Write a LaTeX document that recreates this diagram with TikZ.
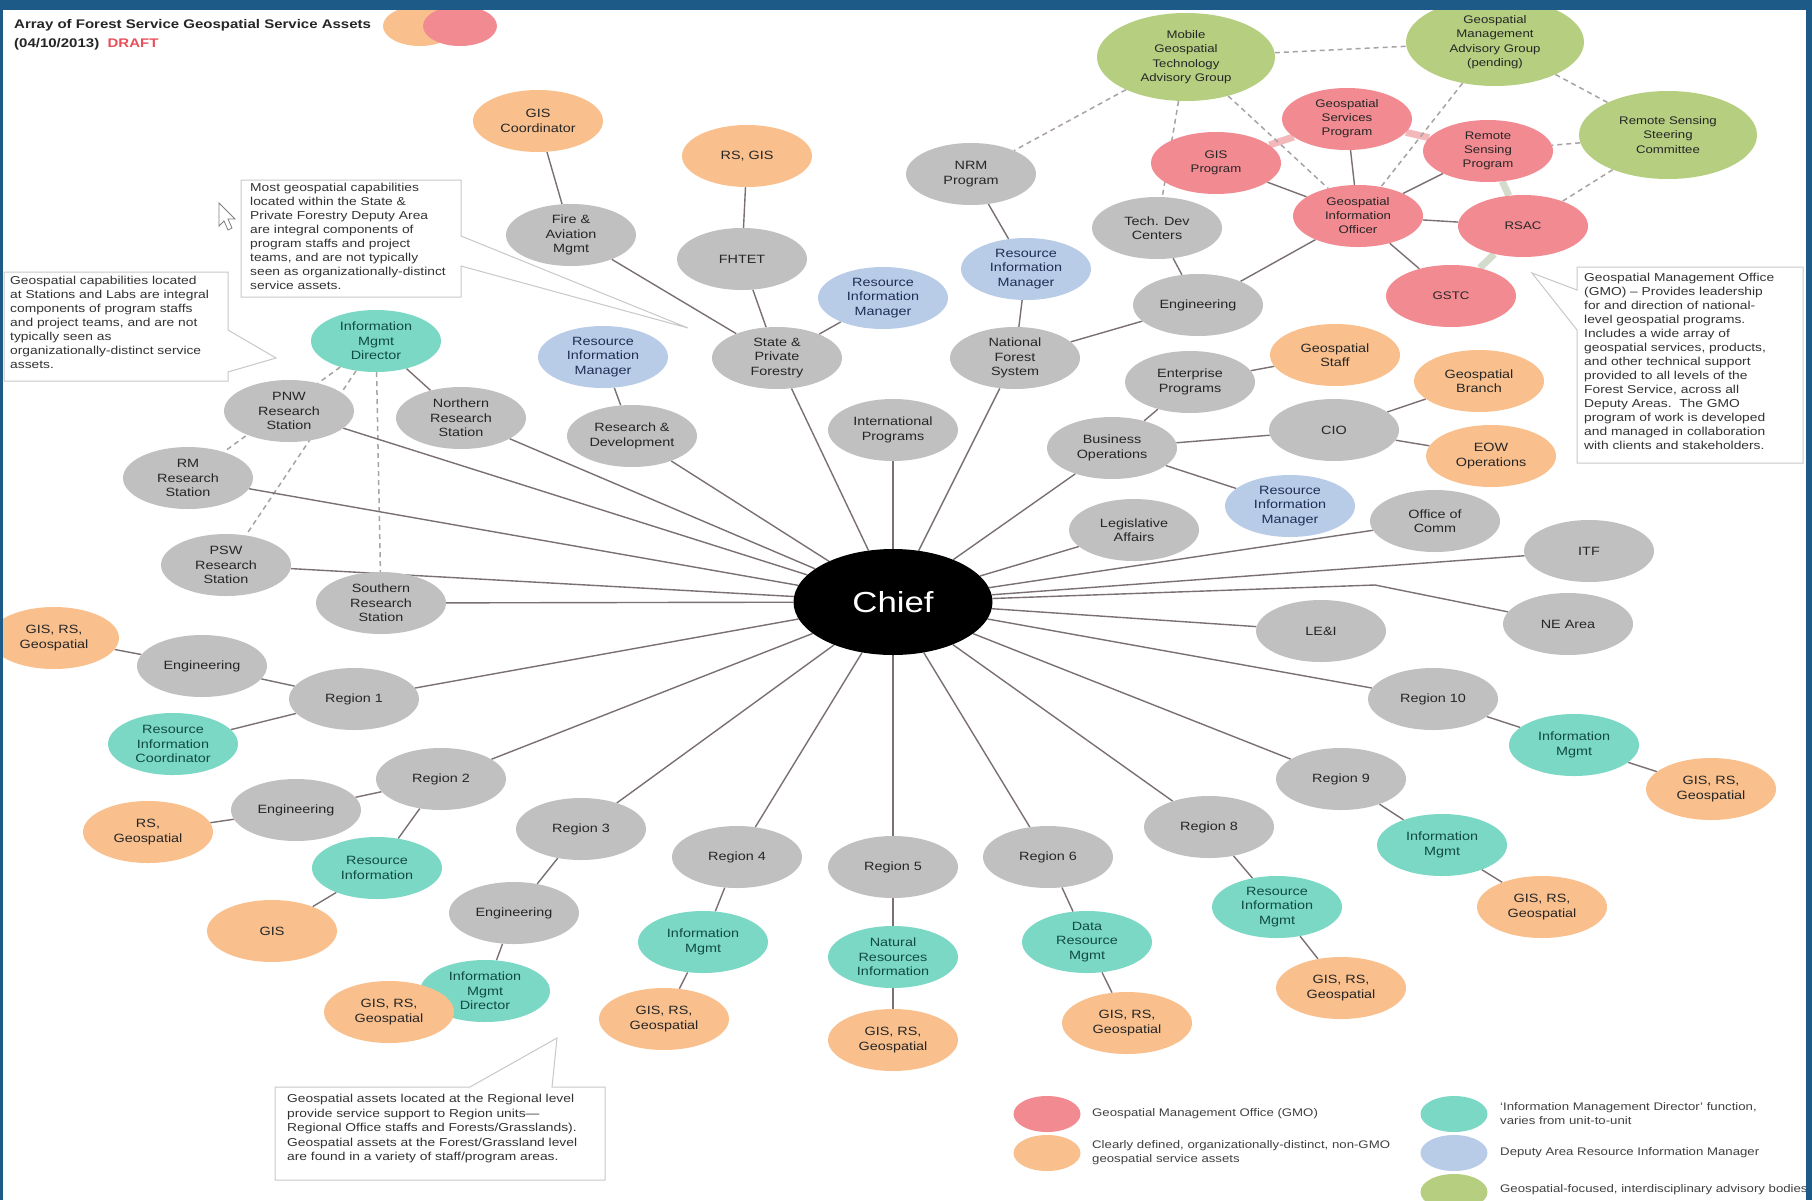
\documentclass[tikz,border=0pt]{standalone}
\usepackage{fontspec}
\setmainfont{Liberation Sans}[FakeStretch=1.2]
\usetikzlibrary{shapes.geometric,backgrounds}

\definecolor{grayn}{RGB}{192,192,192}
\definecolor{orangen}{RGB}{249,192,141}
\definecolor{pinkn}{RGB}{242,138,145}
\definecolor{tealn}{RGB}{122,216,197}
\definecolor{bluen}{RGB}{184,204,232}
\definecolor{greenn}{RGB}{181,206,128}
\definecolor{tealt}{RGB}{18,74,69}
\definecolor{bluet}{RGB}{31,47,85}
\definecolor{linkc}{RGB}{122,112,114}
\definecolor{framec}{RGB}{30,90,136}
\definecolor{callc}{RGB}{200,200,200}
\definecolor{draftc}{RGB}{232,80,90}
\definecolor{gluep}{RGB}{245,184,186}
\definecolor{glueg}{RGB}{211,220,203}

\begin{document}
\begin{tikzpicture}[x=1pt,y=-1pt,
    unit/.style={ellipse,fill=grayn,inner sep=1pt,minimum width=130pt,minimum height=62pt,
        align=center,text=black!85,font=\fontsize{12}{14.5}\selectfont},
    asset/.style={fill=orangen},
    gmo/.style={fill=pinkn,font=\fontsize{11}{14}\selectfont},
    imd/.style={fill=tealn,text=tealt},
    rim/.style={fill=bluen,text=bluet},
    board/.style={fill=greenn,minimum width=178pt,minimum height=88pt,font=\fontsize{11}{14.5}\selectfont},
    note/.style={anchor=north west,align=left,inner sep=0pt,text=black!80,font=\fontsize{11.5}{14}\selectfont},
    callout/.style={draw=callc,line width=1pt,fill=white},
    keytext/.style={anchor=west,align=left,inner sep=0pt,text=black!75,font=\fontsize{11}{14}\selectfont}]
\useasboundingbox (0,0) rectangle (1812,1200);

\begin{scope}[every node/.style={unit}]
    % chief
    \node[fill=black,text=white,font=\fontsize{29}{31}\selectfont,minimum width=199pt,minimum height=106pt] (chief) at (893,602) {Chief};
    % state & private forestry
    \node[asset] (gisco) at (538,121) {GIS\\Coordinator};
    \node (fam) at (571,235) {Fire \&\\Aviation\\Mgmt};
    \node[asset] (rsgis) at (747,156) {RS, GIS};
    \node (fhtet) at (742,259) {FHTET};
    \node[rim] (rimspf) at (883,298) {Resource\\Information\\Manager};
    \node (spf) at (777,358) {State \&\\Private\\Forestry};
    % research
    \node[rim] (rimrd) at (603,357) {Resource\\Information\\Manager};
    \node (rnd) at (632,436) {Research \&\\Development};
    \node[imd] (imdres) at (376,341) {Information\\Mgmt\\Director};
    \node (pnw) at (289,411) {PNW\\Research\\Station};
    \node (nrs) at (461,418) {Northern\\Research\\Station};
    \node (rmrs) at (188,478) {RM\\Research\\Station};
    \node (psw) at (226,565) {PSW\\Research\\Station};
    \node (srs) at (381,603) {Southern\\Research\\Station};
    \node (intl) at (893,430) {International\\Programs};
    % national forest system
    \node (nrm) at (971,174) {NRM\\Program};
    \node[rim] (rimnfs) at (1026,269) {Resource\\Information\\Manager};
    \node (nfs) at (1015,358) {National\\Forest\\System};
    \node (tdc) at (1157,228) {Tech. Dev\\Centers};
    \node (eng) at (1198,305) {Engineering};
    % gmo
    \node[gmo] (gsp) at (1347,119) {Geospatial\\Services\\Program};
    \node[gmo] (gisp) at (1216,163) {GIS\\Program};
    \node[gmo] (rsp) at (1488,151) {Remote\\Sensing\\Program};
    \node[gmo] (gio) at (1358,216) {Geospatial\\Information\\Officer};
    \node[gmo] (rsac) at (1523,226) {RSAC};
    \node[gmo] (gstc) at (1451,296) {GSTC};
    % advisory groups
    \node[board] (mgtag) at (1186,57) {Mobile\\Geospatial\\Technology\\Advisory Group};
    \node[board] (gmag) at (1495,42) {Geospatial\\Management\\Advisory Group\\(pending)};
    \node[board] (rssc) at (1668,135) {Remote Sensing\\Steering\\Committee};
    % business operations
    \node (bo) at (1112,448) {Business\\Operations};
    \node (ep) at (1190,382) {Enterprise\\Programs};
    \node[asset] (gstaff) at (1335,355) {Geospatial\\Staff};
    \node (cio) at (1334,430) {CIO};
    \node[asset] (gbranch) at (1479,381) {Geospatial\\Branch};
    \node[asset] (eow) at (1491,456) {EOW\\Operations};
    \node[rim] (rimbo) at (1290,506) {Resource\\Information\\Manager};
    \node (la) at (1134,530) {Legislative\\Affairs};
    \node (oc) at (1435,521) {Office of\\Comm};
    \node (itf) at (1589,551) {ITF};
    \node (nea) at (1568,624) {NE Area};
    \node (lei) at (1321,631) {LE\&I};
    % regions
    \node (r10) at (1433,699) {Region 10};
    \node[imd] (im10) at (1574,745) {Information\\Mgmt};
    \node[asset] (geo10) at (1711,789) {GIS, RS,\\Geospatial};
    \node (r9) at (1341,779) {Region 9};
    \node[imd] (im9) at (1442,845) {Information\\Mgmt};
    \node[asset] (geo9) at (1542,907) {GIS, RS,\\Geospatial};
    \node (r8) at (1209,827) {Region 8};
    \node[imd] (rim8) at (1277,907) {Resource\\Information\\Mgmt};
    \node[asset] (geo8) at (1341,988) {GIS, RS,\\Geospatial};
    \node (r6) at (1048,857) {Region 6};
    \node[imd] (drm6) at (1087,942) {Data\\Resource\\Mgmt};
    \node[asset] (geo6) at (1127,1023) {GIS, RS,\\Geospatial};
    \node (r5) at (893,867) {Region 5};
    \node[imd] (nri5) at (893,957) {Natural\\Resources\\Information};
    \node[asset] (geo5) at (893,1040) {GIS, RS,\\Geospatial};
    \node (r4) at (737,857) {Region 4};
    \node[imd] (im4) at (703,942) {Information\\Mgmt};
    \node[asset] (geo4) at (664,1019) {GIS, RS,\\Geospatial};
    \node (r3) at (581,829) {Region 3};
    \node (eng3) at (514,913) {Engineering};
    \node[imd] (imd3) at (485,991) {Information\\Mgmt\\Director};
    \node[asset] (geo3) at (389,1012) {GIS, RS,\\Geospatial};
    \node (r2) at (441,779) {Region 2};
    \node (eng2) at (296,810) {Engineering};
    \node[asset] (geo2) at (148,832) {RS,\\Geospatial};
    \node[imd] (ri2) at (377,868) {Resource\\Information};
    \node[asset] (gis2) at (272,931) {GIS};
    \node (r1) at (354,699) {Region 1};
    \node (eng1) at (202,666) {Engineering};
    \node[asset] (geo1) at (54,638) {GIS, RS,\\Geospatial};
    \node[imd] (ric1) at (173,744) {Resource\\Information\\Coordinator};
    % title marks and legend
    \node[asset,minimum width=74pt,minimum height=40pt] (keyo) at (420,26) {};
    \node[gmo,minimum width=74pt,minimum height=40pt] (keyp) at (460,26) {};
    \node[gmo,minimum width=67pt,minimum height=36pt] (lgmo) at (1047,1114) {};
    \node[asset,minimum width=67pt,minimum height=36pt] (lasset) at (1047,1153) {};
    \node[imd,minimum width=67pt,minimum height=36pt] (limd) at (1454,1114) {};
    \node[rim,minimum width=67pt,minimum height=36pt] (lrim) at (1454,1153) {};
    \node[board,minimum width=67pt,minimum height=36pt] (lboard) at (1454,1192) {};
\end{scope}
\coordinate (bendnea) at (1375,585);

\begin{pgfonlayer}{background}
\fill[white] (0,0) rectangle (1812,1200);
\begin{scope}[every edge/.style={draw=gluep,line width=7pt}]
    \path [-] (gisp) edge (gsp);
    \path [-] (gsp) edge (rsp);
\end{scope}
\begin{scope}[every edge/.style={draw=glueg,line width=7pt}]
    \path [-] (rsp) edge (rsac);
    \path [-] (rsac) edge (gstc);
\end{scope}
\begin{scope}[every edge/.style={draw=linkc!65,line width=1.5pt,dash pattern=on 5pt off 4pt}]
    \path [-] (imdres) edge (rmrs);
    \path [-] (imdres) edge (psw);
    \path [-] (imdres) edge (srs);
    \path [-] (mgtag) edge (nrm);
    \path [-] (mgtag) edge (tdc);
    \path [-] (mgtag) edge (gmag);
    \path [-] (mgtag) edge (gio);
    \path [-] (gmag) edge (gio);
    \path [-] (gmag) edge (rssc);
    \path [-] (rssc) edge (rsp);
    \path [-] (rssc) edge (rsac);
\end{scope}
\begin{scope}[every edge/.style={draw=linkc,line width=1.4pt,line join=round}]
    \foreach \u in {spf,rnd,intl,nfs,bo,la,oc,itf,lei,r10,r9,r8,r6,r5,r4,r3,r2,r1,srs,psw,rmrs,pnw,nrs}
        \path [-] (chief) edge (\u);
    \path [-] (chief) edge (bendnea);
    \path [-] (bendnea) edge (nea);
    \path [-] (gisco) edge (fam);
    \path [-] (fam) edge (spf);
    \path [-] (rsgis) edge (fhtet);
    \path [-] (fhtet) edge (spf);
    \path [-] (rimspf) edge (spf);
    \path [-] (rimrd) edge (rnd);
    \path [-] (imdres) edge (nrs);
    \path [-] (nrm) edge (rimnfs);
    \path [-] (rimnfs) edge (nfs);
    \path [-] (nfs) edge (eng);
    \path [-] (eng) edge (tdc);
    \path [-] (eng) edge (gio);
    \path [-] (gio) edge (gsp);
    \path [-] (gio) edge (gisp);
    \path [-] (gio) edge (rsp);
    \path [-] (gio) edge (rsac);
    \path [-] (gio) edge (gstc);
    \path [-] (bo) edge (ep);
    \path [-] (ep) edge (gstaff);
    \path [-] (bo) edge (cio);
    \path [-] (cio) edge (gbranch);
    \path [-] (cio) edge (eow);
    \path [-] (bo) edge (rimbo);
    \path [-] (r10) edge (im10);
    \path [-] (im10) edge (geo10);
    \path [-] (r9) edge (im9);
    \path [-] (im9) edge (geo9);
    \path [-] (r8) edge (rim8);
    \path [-] (rim8) edge (geo8);
    \path [-] (r6) edge (drm6);
    \path [-] (drm6) edge (geo6);
    \path [-] (r5) edge (nri5);
    \path [-] (nri5) edge (geo5);
    \path [-] (r4) edge (im4);
    \path [-] (im4) edge (geo4);
    \path [-] (r3) edge (eng3);
    \path [-] (eng3) edge (imd3);
    \path [-] (r2) edge (eng2);
    \path [-] (eng2) edge (geo2);
    \path [-] (r2) edge (ri2);
    \path [-] (ri2) edge (gis2);
    \path [-] (r1) edge (eng1);
    \path [-] (eng1) edge (geo1);
    \path [-] (r1) edge (ric1);
\end{scope}
\end{pgfonlayer}

% callouts
\draw[callout] (241,180) -- (461,180) -- (461,236) -- (688,328) -- (461,266) -- (461,297) -- (241,297) -- cycle;
\node[note] (notespf) at (250,183) {Most geospatial capabilities\\located within the State \&\\Private Forestry Deputy Area\\are integral components of\\program staffs and project\\teams, and are not typically\\seen as organizationally-distinct\\service assets.};
\draw[callout] (4,272) -- (228,272) -- (228,330) -- (276,358) -- (228,372) -- (228,381) -- (4,381) -- cycle;
\node[note] (noteres) at (10,276) {Geospatial capabilities located\\at Stations and Labs are integral\\components of program staffs\\and project teams, and are not\\typically seen as\\organizationally-distinct service\\assets.};
\draw[callout] (1577,267) -- (1803,267) -- (1803,463) -- (1577,463) -- (1577,330) -- (1532,273) -- (1577,290) -- cycle;
\node[note] (notegmo) at (1584,273) {Geospatial Management Office\\(GMO) -- Provides leadership\\for and direction of national-\\level geospatial programs.\\Includes a wide array of\\geospatial services, products,\\and other technical support\\provided to all levels of the\\Forest Service, across all\\Deputy Areas.\ \ The GMO\\program of work is developed\\and managed in collaboration\\with clients and stakeholders.};
\draw[callout] (275,1087) -- (470,1087) -- (557,1038) -- (552,1087) -- (605,1087) -- (605,1180) -- (275,1180) -- cycle;
\node[note,font=\fontsize{11.5}{14.5}\selectfont] (notereg) at (287,1094) {Geospatial assets located at the Regional level\\provide service support to Region units---\\Regional Office staffs and Forests/Grasslands).\\Geospatial assets at the Forest/Grassland level\\are found in a variety of staff/program areas.};

% title
\node[anchor=west,inner sep=0pt,font=\bfseries\fontsize{12.5}{14}\selectfont,text=black!85] (title) at (14,25) {Array of Forest Service Geospatial Service Assets};
\node[anchor=west,inner sep=0pt,font=\bfseries\fontsize{12.5}{14}\selectfont,text=black!85] (date) at (14,44) {(04/10/2013)\ \ \textcolor{draftc}{DRAFT}};

% legend
\node[keytext] (tgmo) at (1092,1114) {Geospatial Management Office (GMO)};
\node[keytext] (tasset) at (1092,1153) {Clearly defined, organizationally-distinct, non-GMO\\geospatial service assets};
\node[keytext] (timd) at (1500,1114) {`Information Management Director' function,\\varies from unit-to-unit};
\node[keytext] (trim) at (1500,1153) {Deputy Area Resource Information Manager};
\node[keytext] (tboard) at (1500,1190) {Geospatial-focused, interdisciplinary advisory bodies};

% pointer
\draw[gray,fill=white,line width=0.8pt] (219,203) -- (219,226) -- (224,221) -- (228,230) -- (232,228) -- (228,219) -- (235,219) -- cycle;

% frame
\fill[framec] (0,0) rectangle (1812,10);
\fill[framec] (0,0) rectangle (3,1200);
\fill[framec] (1806,0) rectangle (1812,1200);
\end{tikzpicture}
\end{document}
